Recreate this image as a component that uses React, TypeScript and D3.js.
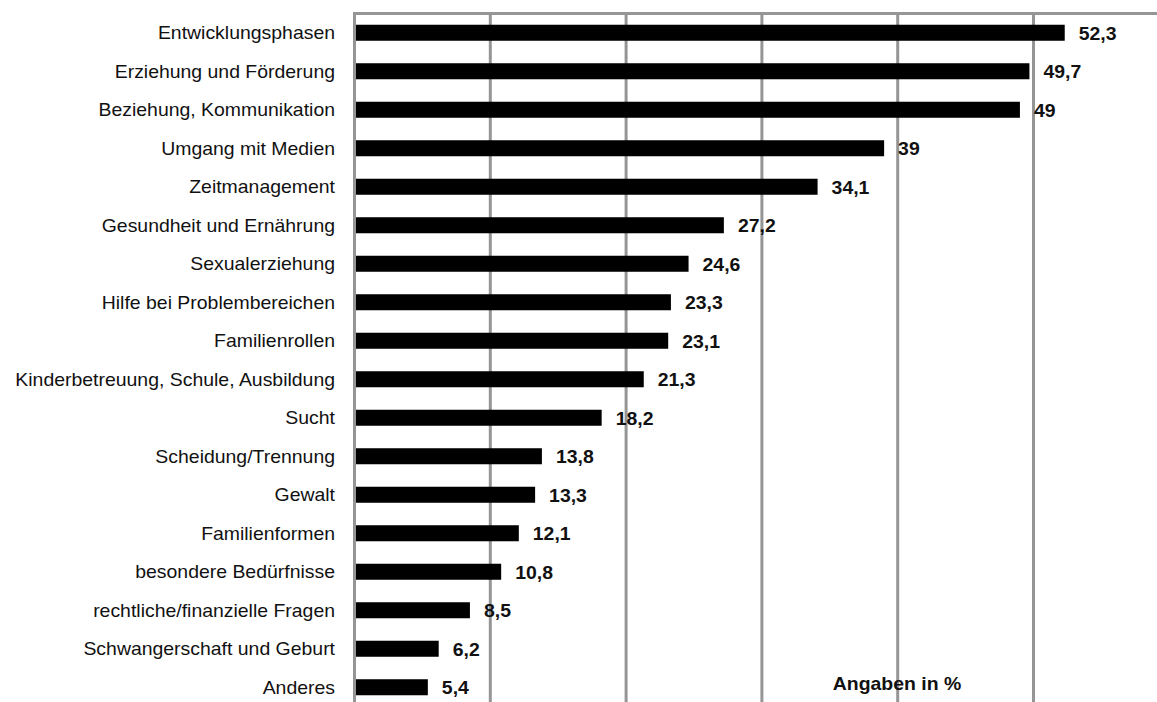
import React, { useEffect, useRef } from 'react';
import * as d3 from 'd3';

const categories = [
    'Entwicklungsphasen',
    'Erziehung und Förderung',
    'Beziehung, Kommunikation',
    'Umgang mit Medien',
    'Zeitmanagement',
    'Gesundheit und Ernährung',
    'Sexualerziehung',
    'Hilfe bei Problembereichen',
    'Familienrollen',
    'Kinderbetreuung, Schule, Ausbildung',
    'Sucht',
    'Scheidung/Trennung',
    'Gewalt',
    'Familienformen',
    'besondere Bedürfnisse',
    'rechtliche/finanzielle Fragen',
    'Schwangerschaft und Geburt',
    'Anderes'
];
const values = [52.3, 49.7, 49, 39, 34.1, 27.2, 24.6, 23.3, 23.1, 21.3, 18.2, 13.8, 13.3, 12.1, 10.8, 8.5, 6.2, 5.4];
const gridTicks = [10, 20, 30, 40, 50, 60];
const unitLabel = 'Angaben in %';

const W = 1157;
const H = 702;
const SX = 1.08; // text in the original is stretched horizontally

const App = () => {
    const ref = useRef<SVGSVGElement>(null);

    useEffect(() => {
        const svg = d3.select(ref.current);
        svg.selectAll('*').remove();

        const x = d3.scaleLinear().domain([0, 60]).range([354.5, 354.5 + 814.8]);
        const y = d3.scaleBand()
            .domain(categories)
            .range([13.5, 13.5 + 18 * 38.5])
            .paddingInner(0.584)
            .paddingOuter(0.292);

        const data = categories.map((c, i) => ({ label: c, value: values[i] }));
        const fmt = (v: number) => String(v).replace('.', ',');

        // gridlines
        svg.selectAll('.grid')
            .data(gridTicks)
            .enter().append('line')
            .attr('x1', (d: number) => x(d))
            .attr('x2', (d: number) => x(d))
            .attr('y1', 13.5)
            .attr('y2', H + 10)
            .attr('stroke', '#959595')
            .attr('stroke-width', 3);

        // top border
        svg.append('line')
            .attr('x1', x(0) - 1.5).attr('x2', W)
            .attr('y1', 13.5).attr('y2', 13.5)
            .attr('stroke', '#959595')
            .attr('stroke-width', 3);

        svg.selectAll('.bar')
            .data(data)
            .enter().append('rect')
            .attr('x', x(0))
            .attr('y', (d: any) => y(d.label))
            .attr('width', (d: any) => x(d.value) - x(0))
            .attr('height', y.bandwidth())
            .attr('fill', '#000');

        // axis line
        svg.append('line')
            .attr('x1', x(0)).attr('x2', x(0))
            .attr('y1', 12).attr('y2', H + 10)
            .attr('stroke', '#959595')
            .attr('stroke-width', 3);

        svg.selectAll('.cat')
            .data(data)
            .enter().append('text')
            .attr('transform', (d: any) => `translate(335,${(y(d.label) as number) + y.bandwidth() / 2 + 6.5}) scale(${SX},1)`)
            .attr('text-anchor', 'end')
            .style('font-family', 'Liberation Sans, Arial, sans-serif')
            .style('font-size', '18px')
            .attr('fill', '#111')
            .text((d: any) => d.label);

        svg.selectAll('.val')
            .data(data)
            .enter().append('text')
            .attr('transform', (d: any) => `translate(${x(d.value) + 14},${(y(d.label) as number) + y.bandwidth() / 2 + 7}) scale(${SX},1)`)
            .style('font-family', 'Liberation Sans, Arial, sans-serif')
            .style('font-size', '18px')
            .style('font-weight', 'bold')
            .attr('fill', '#111')
            .text((d: any) => fmt(d.value));

        svg.append('text')
            .attr('transform', `translate(897,690) scale(${SX},1)`)
            .attr('text-anchor', 'middle')
            .style('font-family', 'Liberation Sans, Arial, sans-serif')
            .style('font-size', '18px')
            .style('font-weight', 'bold')
            .attr('fill', '#111')
            .text(unitLabel);
    }, []);

    return (
        <svg ref={ref} width={W} height={H}
            style={{ position: 'absolute', left: 0, top: 0, background: '#fff' }} />
    );
};

export default App;
